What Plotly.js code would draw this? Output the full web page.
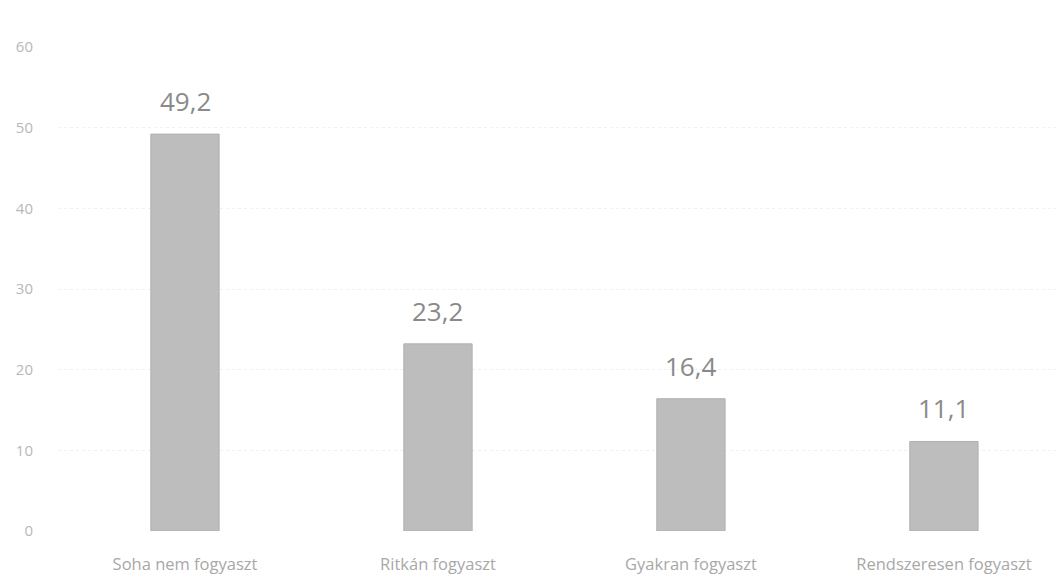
<!DOCTYPE html>
<html><head><meta charset="utf-8">
<script src="https://cdn.plot.ly/plotly-3.0.1.min.js"></script>
<style>html,body{margin:0;padding:0;background:#fff}#c{width:1056px;height:577px}</style>
</head><body><div id="c"></div>
<script>
const categories = ["Soha nem fogyaszt", "Ritkán fogyaszt", "Gyakran fogyaszt", "Rendszeresen fogyaszt"];
const values = [49.2, 23.2, 16.4, 11.1];
const valueLabels = ["49,2", "23,2", "16,4", "11,1"];
const yTicks = [0, 10, 20, 30, 40, 50, 60];

const annotations = categories.map((c, i) => ({
  x: c, y: values[i], xref: 'x', yref: 'y',
  text: valueLabels[i], showarrow: false,
  yanchor: 'bottom', yshift: 13,
  font: {family: 'Open Sans, sans-serif', size: 26, color: '#8a8a8a'}
}));

Plotly.newPlot('c', [{
  type: 'bar',
  x: categories,
  y: values,
  width: 0.27,
  marker: {color: '#bdbdbd', line: {color: '#b0b0b0', width: 1}},
  hoverinfo: 'none'
}], {
  width: 1056, height: 577,
  margin: {l: 58, r: 0, t: 47, b: 46},
  paper_bgcolor: '#fff', plot_bgcolor: '#fff',
  showlegend: false,
  annotations: annotations,
  xaxis: {
    range: [-0.502, 3.443],
    showgrid: false, zeroline: false, showline: false,
    ticks: '', ticklabelstandoff: 21,
    tickfont: {family: 'Open Sans, sans-serif', size: 16.5, color: '#a8a8a8'}
  },
  yaxis: {
    range: [0, 60],
    tickvals: yTicks,
    showgrid: true, gridcolor: '#f0f0f0', griddash: 'dot', gridwidth: 1,
    zeroline: false, showline: false, ticks: '', ticklabelstandoff: 24,
    tickfont: {family: 'Open Sans, sans-serif', size: 15, color: '#b8b8b8'}
  }
}, {displayModeBar: false, staticPlot: true});
</script></body></html>
